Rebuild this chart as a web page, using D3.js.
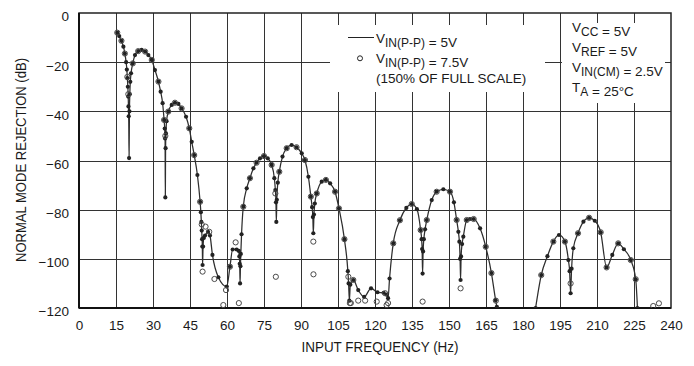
<!DOCTYPE html>
<html>
<head>
<meta charset="utf-8">
<script src="https://cdn.jsdelivr.net/npm/d3@7"></script>
<style>
  html, body { margin: 0; padding: 0; background: #fff; }
  svg { display: block; }
  text { font-family: "Liberation Sans", Arial, sans-serif; fill: #1a1a1a; }
</style>
</head>
<body>
<svg id="chart" width="694" height="366"></svg>
<script>
// ---- data ----
const xTicks = [0, 15, 30, 45, 60, 75, 90, 105, 120, 135, 150, 165, 180, 195, 210, 225, 240];
const yTicks = [0, -20, -40, -60, -80, -100, -120];

// VIN(P-P) = 5V : frequency (Hz) and rejection (dB); null = below the plotted range
const freq5 = [15.5, 16.3, 17.2, 18.0, 18.6, 19.1, 19.4, 19.6, 19.8, 19.95, 20.05, 20.15, 20.3, 20.45, 20.6, 20.8, 21.1, 21.8, 22.7, 24.0,
  25.4, 26.8, 28.1, 29.5, 30.8, 32.2, 33.1, 33.9, 34.5, 34.75, 34.9, 35.0, 35.1, 35.25, 35.5, 36.2, 37.6, 38.9, 40.3, 41.6,
  43.4, 44.7, 45.7, 46.7, 48.0, 49.1, 49.4, 49.6, 49.75, 49.9, 50.0, 50.1, 50.3, 50.6, 51.1, 52.3, 53.1, 54.1, 56.5, 59.9,
  61.2, 62.3, 63.9, 64.8, 65.0, 65.15, 65.3, 65.45, 65.6, 65.9, 66.6, 68.0, 69.3, 70.7, 72.0, 73.4, 75.0, 76.5, 78.1, 79.2,
  79.6, 79.85, 80.0, 80.2, 80.6, 81.2, 82.5, 84.2, 86.2, 88.2, 90.3, 91.6, 93.0, 94.0, 94.5, 94.8, 95.0, 95.25, 95.6, 96.4,
  98.4, 100.1, 101.8, 103.8, 105.4, 107.6, 109.0, 109.3, 109.6, 110.0, 111.2, 113.2, 115.6, 118.4, 121.0, 123.5, 124.6, 125.3, 125.9, 127.4,
  130.1, 132.7, 134.9, 137.0, 138.5, 138.9, 139.1, 139.3, 139.5, 139.8, 140.3, 141.0, 143.0, 145.0, 147.7, 150.4, 152.0, 153.1, 153.8, 154.2,
  154.5, 154.7, 154.9, 155.3, 155.8, 157.2, 158.5, 160.0, 162.6, 164.9, 167.2, 168.9, 169.4, 177.0, 185.1, 187.4, 189.9, 192.3, 194.6, 197.0,
  198.4, 198.9, 199.3, 199.7, 200.4, 202.3, 204.5, 206.8, 209.1, 211.5, 213.9, 216.2, 218.6, 220.9, 223.7, 225.7, 226.4];
const rej5 = [-8, -9.4, -11.3, -13.7, -16.5, -20, -23, -26.5, -30, -34, -38, -42, -59, -40, -33, -28, -24.5, -20.5, -17.1, -15.5,
  -15, -15.7, -17.1, -19.1, -23.2, -27.9, -32, -36.7, -43.5, -47, -51, -75, -55, -49, -44, -40.1, -37.4, -36.5, -37, -38.8,
  -42.2, -46.9, -52.4, -57.8, -65.9, -76.8, -81, -85, -88.5, -92, -95, -102.5, -95, -91.5, -90.5, -89, -90.5, -98.4, -107.5, -111.3,
  -103.2, -96.2, -96.2, -96.8, -99, -102, -110, -103, -98, -90, -78.8, -71.3, -67.2, -63.2, -60.9, -59.1, -58.2, -59.1, -61.8, -67.2,
  -72, -77, -85, -76, -69, -64.6, -58.4, -55, -53.7, -54.6, -57.1, -59.8, -66.6, -74.7, -79, -83, -89.6, -82, -77.5, -73.4,
  -68.6, -67.9, -69.3, -72.7, -79.5, -92, -105, -110, -117, -110.5, -108.6, -112.7, -115.5, -112, -113.6, -113.8, -114.5, -116, -108, -93.7,
  -84.3, -79.3, -77.7, -79.8, -88.3, -92, -96, -106, -97, -92, -88, -84.2, -76.1, -72.7, -71.7, -72.7, -77, -84.2, -89, -93,
  -100, -108.6, -99, -94, -91, -84.2, -83.8, -83.8, -87.6, -95.1, -105.8, -116.8, -119.5, null, -120, -106.6, -98.9, -93, -90.3, -93,
  -100.5, -105, -114, -104, -95.7, -89.6, -84.9, -83.3, -84.5, -89.2, -103.5, -98.4, -93.7, -96.1, -100.5, -108.3, -120];

// VIN(P-P) = 7.5V (150% of full scale) : open circles
const freq75 = [15.5, 17.2, 18.6, 19.6, 20.0, 21.8, 24.0, 26.8, 29.5, 32.2, 34.5, 35.0, 36.2, 38.9, 41.6, 44.7, 46.7, 49.1, 49.75, 50.1,
  51.3, 52.8, 54.9, 58.5, 59.6, 61.2, 63.5, 64.8, 66.6, 69.3, 72.0, 75.0, 78.1, 79.6, 79.8, 81.2, 84.2, 88.2, 91.6, 94.0,
  95.0, 95.05, 96.4, 100.1, 103.8, 105.4, 107.6, 109.2, 109.8, 110.2, 111.2, 113.2, 116.0, 120.7, 124.1, 124.7, 125.3, 127.4, 130.1, 134.9,
  138.5, 139.3, 141.0, 145.0, 150.4, 153.1, 154.7, 157.2, 160.0, 164.9, 167.2, 169.0, 187.4, 192.3, 197.0, 199.3, 202.3, 206.8, 211.5, 213.9,
  218.6, 223.7, 225.7, 232.8, 235.1];
const rej75 = [-8, -11.3, -16.5, -26, -33, -20.5, -15.5, -15.7, -19.1, -27.9, -43.5, -50, -40.1, -36.5, -38.8, -46.9, -57.8, -76.8, -86, -105.2,
  -86.9, -89, -108.2, -118.8, -112.7, -103.2, -93.3, -118, -78.8, -67.2, -60.9, -58.2, -61.8, -73.4, -107.3, -64.6, -55, -54.6, -59.8, -74.7,
  -93, -106.3, -73.4, -67.9, -72.7, -79.5, -92, -107.3, -118, -118, -108.6, -117, -117, -117.4, -114, -118.8, -118, -93.7, -84.3, -77.7,
  -88.3, -117.4, -84.2, -72.7, -72.7, -84.2, -112, -84.2, -83.8, -95.1, -105.8, -117, -106.6, -93, -93, -110, -89.6, -83.3, -89.2, -103.5,
  -93.7, -100.5, -108.3, -119.2, -118.1];

const xTitle = "INPUT FREQUENCY (Hz)";
const yTitle = "NORMAL MODE REJECTION (dB)";

// ---- layout ----
const svg = d3.select("#chart");
const x = d3.scaleLinear().domain([0, 240]).range([79, 671]);
const y = d3.scaleLinear().domain([-120, 0]).range([308, 13]);

const series5 = freq5.map((f, i) => ({ f, v: rej5[i] }));
const series75 = freq75.map((f, i) => ({ f, v: rej75[i] }));

// font check: condensed face available?
const probe = svg.append("text").attr("font-size", 20).text(xTitle);
probe.attr("font-family", "Liberation Sans");
const wReg = probe.node().getComputedTextLength();
probe.attr("font-family", "Liberation Sans Narrow, Liberation Sans");
const wNar = probe.node().getComputedTextLength();
probe.remove();
const narrowOK = wNar < wReg * 0.9;
const labelFont = narrowOK ? "Liberation Sans Narrow" : "Liberation Sans";
const legSize = narrowOK ? 16 : 13.5;
const legSub = narrowOK ? 13.5 : 12;

// grid
const grid = svg.append("g").attr("stroke", "#333").attr("stroke-width", 1);
grid.selectAll("line.v").data(xTicks.slice(1, -1)).join("line")
  .attr("x1", d => Math.round(x(d)) + 0.5).attr("x2", d => Math.round(x(d)) + 0.5)
  .attr("y1", y(0)).attr("y2", y(-120));
grid.selectAll("line.h").data(yTicks.slice(1, -1)).join("line")
  .attr("y1", d => Math.round(y(d)) + 0.5).attr("y2", d => Math.round(y(d)) + 0.5)
  .attr("x1", x(0)).attr("x2", x(240));

// white boxes behind the legend and the conditions
svg.append("rect").attr("x", 330).attr("y", 25).attr("width", 215).attr("height", 67).attr("fill", "#fff");
svg.append("rect").attr("x", 562).attr("y", 23).attr("width", 103).attr("height", 80).attr("fill", "#fff");

// frame
svg.append("rect").attr("x", x(0)).attr("y", y(0)).attr("width", x(240) - x(0)).attr("height", y(-120) - y(0))
  .attr("fill", "none").attr("stroke", "#222").attr("stroke-width", 1.5);
svg.append("line").attr("x1", x(0)).attr("x2", x(240)).attr("y1", y(-120)).attr("y2", y(-120))
  .attr("stroke", "#111").attr("stroke-width", 2);
svg.append("line").attr("x1", x(0)).attr("x2", x(0)).attr("y1", y(0)).attr("y2", y(-120))
  .attr("stroke", "#111").attr("stroke-width", 2);

// axes (labels only)
const xAxis = svg.append("g").attr("transform", `translate(0,${y(-120)})`)
  .call(d3.axisBottom(x).tickValues(xTicks).tickSize(0).tickPadding(12).tickFormat(d3.format("d")));
xAxis.select(".domain").remove();
xAxis.selectAll("text").attr("font-size", 13.5).attr("font-family", "Liberation Sans, Arial, sans-serif").attr("fill", "#1a1a1a");

const yAxis = svg.append("g").attr("transform", `translate(${x(0)},0)`)
  .call(d3.axisLeft(y).tickValues(yTicks).tickSize(0).tickPadding(10).tickFormat(d3.format("d")));
yAxis.select(".domain").remove();
yAxis.selectAll("text").attr("font-size", 13.5).attr("dy", "0.58em").attr("font-family", "Liberation Sans, Arial, sans-serif").attr("fill", "#1a1a1a");

// titles
svg.append("text").attr("x", 380).attr("y", 352).attr("text-anchor", "middle")
  .attr("font-family", labelFont).attr("font-size", 15.5)
  .attr("textLength", 157).attr("lengthAdjust", "spacingAndGlyphs").text(xTitle);
svg.append("text").attr("transform", "translate(25.5,160) rotate(-90)").attr("text-anchor", "middle")
  .attr("font-family", labelFont).attr("font-size", 15.5)
  .attr("textLength", 204).attr("lengthAdjust", "spacingAndGlyphs").text(yTitle);

// data
const plot = svg.append("g");
svg.append("clipPath").attr("id", "clip").append("rect")
  .attr("x", x(0)).attr("y", y(0) - 5).attr("width", x(240) - x(0)).attr("height", y(-120) - y(0) + 5);
plot.attr("clip-path", "url(#clip)");

const line = d3.line().defined(d => d.v !== null).x(d => x(d.f)).y(d => y(d.v)).curve(d3.curveMonotoneX);
plot.append("path").datum(series5).attr("d", line)
  .attr("fill", "none").attr("stroke", "#2e2e2e").attr("stroke-width", 1.25);

plot.selectAll("circle.p5").data(series5.filter(d => d.v !== null)).join("circle")
  .attr("class", "p5").attr("cx", d => x(d.f)).attr("cy", d => y(d.v)).attr("r", 2.1)
  .attr("fill", "#222");

plot.selectAll("circle.p75").data(series75).join("circle")
  .attr("class", "p75").attr("cx", d => x(d.f)).attr("cy", d => y(d.v)).attr("r", 2.6)
  .attr("fill", "none").attr("stroke", "#4a4a4a").attr("stroke-width", 1);

// legend
const lg = svg.append("g").attr("font-size", legSize).attr("font-family", labelFont);
lg.append("line").attr("x1", 348).attr("x2", 374).attr("y1", 37.5).attr("y2", 37.5).attr("stroke", "#222").attr("stroke-width", 1);
lg.append("circle").attr("cx", 360).attr("cy", 58.3).attr("r", 2.5).attr("fill", "none").attr("stroke", "#222").attr("stroke-width", 1);

function sub(g, xx, yy, parts) {
  const t = g.append("text").attr("x", xx).attr("y", yy);
  parts.forEach(p => {
    if (p.sub) {
      t.append("tspan").attr("font-size", legSub).attr("dy", 4).text(p.sub);
      t.append("tspan").attr("dy", -4).text("");
    } else {
      t.append("tspan").text(p.t);
    }
  });
  return t;
}
sub(lg, 376, 43.3, [{ t: "V" }, { sub: "IN(P-P)" }, { t: " = 5V" }]);
sub(lg, 376, 63.3, [{ t: "V" }, { sub: "IN(P-P)" }, { t: " = 7.5V" }]);
lg.append("text").attr("x", 376).attr("y", 83.3).text("(150% OF FULL SCALE)");

const cg = svg.append("g").attr("font-size", legSize).attr("font-family", labelFont);
sub(cg, 572, 31.5, [{ t: "V" }, { sub: "CC" }, { t: " = 5V" }]);
sub(cg, 572, 51.5, [{ t: "V" }, { sub: "REF" }, { t: " = 5V" }]);
sub(cg, 572, 71.5, [{ t: "V" }, { sub: "IN(CM)" }, { t: " = 2.5V" }]);
sub(cg, 572, 91.5, [{ t: "T" }, { sub: "A" }, { t: " = 25°C" }]);
</script>
</body>
</html>
